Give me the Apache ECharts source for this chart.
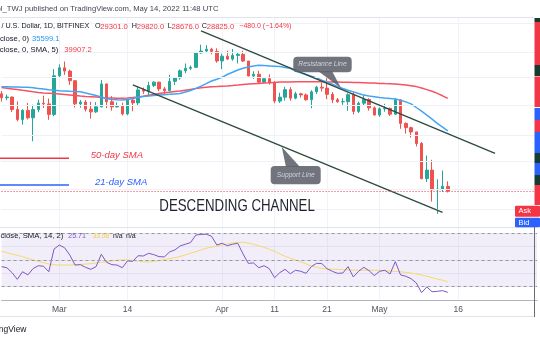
<!DOCTYPE html>
<html><head><meta charset="utf-8">
<script src="https://cdn.jsdelivr.net/npm/echarts@6/dist/echarts.min.js"></script>
<style>html,body{margin:0;padding:0;background:#fff}#c{width:540px;height:340px}</style>
</head><body><div id="c"></div>
<script>
const dates = ['02-18','02-19','02-20','02-21','02-22','02-23','02-24','02-25','02-26','02-27','02-28',
'03-01','03-02','03-03','03-04','03-05','03-06','03-07','03-08','03-09','03-10','03-11','03-12','03-13','03-14','03-15','03-16','03-17','03-18','03-19','03-20','03-21','03-22','03-23','03-24','03-25','03-26','03-27','03-28','03-29','03-30','03-31',
'04-01','04-02','04-03','04-04','04-05','04-06','04-07','04-08','04-09','04-10','04-11','04-12','04-13','04-14','04-15','04-16','04-17','04-18','04-19','04-20','04-21','04-22','04-23','04-24','04-25','04-26','04-27','04-28','04-29','04-30',
'05-01','05-02','05-03','05-04','05-05','05-06','05-07','05-08','05-09','05-10','05-11','05-12','05-13','05-14','05-15','05-16','05-17','05-18','05-19','05-20','05-21','05-22','05-23','05-24','05-25','05-26','05-27','05-28','05-29','05-30','05-31'];

const opens = [40550,40000,40100,38380,37060,38260,37270,38370,39240,39140,37720,
43200,44430,43920,42460,39150,39400,38420,38060,38740,41980,39440,38730,38810,37790,39670,39280,41110,40930,41770,42250,41260,41000,42370,42890,43960,44350,44500,46820,47130,47430,47060,
45510,46280,45810,46410,46580,45500,43170,43440,42250,42760,42160,39530,40080,41150,39940,40550,40400,39720,40830,41500,41370,40480,39710,39440,39450,40430,38120,39240,39740,38600,
37640,38470,38530,37750,39690,36550,36010,35470,34060,30100,31020,28940,29030,29301];
const closes = [40000,40100,38380,37060,38260,37270,38370,39240,39140,37720,43200,
44430,43920,42460,39150,39400,38420,38060,38740,41980,39440,38730,38810,37790,39670,39280,41110,40930,41770,42250,41260,41000,42370,42890,43960,44350,44500,46820,47130,47430,47060,45510,
46280,45810,46410,46580,45500,43170,43440,42250,42760,42160,39530,40080,41150,39940,40550,40400,39720,40830,41500,41370,40480,39710,39440,39450,40430,38120,39240,39740,38600,37640,
38470,38530,37750,39690,36550,36010,35470,34060,30100,31020,28940,29030,29305,28825];
const highs = [40960,40450,40140,39480,38420,39270,39030,39720,40290,39880,44230,
44960,45420,44150,42510,39690,39660,39450,39390,42560,42040,40220,39350,39310,39890,39870,41680,41450,42310,42370,42300,41540,43360,42980,44170,45100,44790,46940,48190,48100,47670,47580,
46680,47200,47440,46880,47190,45510,43900,43970,42800,43420,42420,40700,41560,41510,40840,40690,40600,41070,41730,42180,42960,40800,39960,39940,40620,40800,39460,40380,39930,38790,
38680,39160,38640,39970,39820,36680,36130,35490,34240,32650,32160,30040,30980,29820];
const lows = [39470,39650,38050,36820,36390,37060,34330,38020,38580,37010,37480,
42870,43340,41850,38660,38620,38100,37170,37910,38670,38560,38240,38660,37600,37610,38140,38920,40540,40230,41530,40940,40550,40890,41840,42620,43600,44080,44440,46680,46950,46600,45230,
44220,45650,45540,45120,45360,43140,42740,42120,42140,41880,39220,39260,39590,39570,39780,40030,39570,38540,40530,40870,39800,39240,39300,39000,38200,37730,37900,38900,38220,37600,
37400,38080,37520,37680,35860,35260,34780,33710,30030,29750,27780,26600,28720,28676];

const sma21 = [41578,41563,41534,41519,41505,41490,41431,41329,41228,41127,41055,
40998,40969,40926,40897,40840,40669,40497,40298,40100,39903,39763,39707,39693,39749,39876,40058,40185,40241,40311,40368,40424,40480,40538,40595,40810,41027,41329,41652,42034,42419,42673,
42972,43396,43733,44088,44368,44555,44711,44823,44775,44728,44680,44632,44492,44352,43935,43642,43396,43139,42869,42553,42255,41944,41621,41315,41055,40825,40595,40368,40241,40128,
40015,39945,39889,39834,39652,39416,39139,38648,38162,37616,37092,36562,36077,35599.1];
const sma50 = [41462,41359,41257,41156,41055,40955,40840,40739,40669,40626,40583,
40526,40454,40383,40311,40241,40185,40142,40100,40044,40002,39974,39932,39918,39960,40030,40114,40213,40341,40468,40595,40696,40781,40868,40955,41070,41186,41301,41417,41505,41563,41606,
41652,41695,41754,41827,41915,41974,42019,42063,42107,42152,42211,42255,42270,42285,42300,42315,42315,42315,42315,42300,42285,42270,42255,42240,42226,42196,42181,42152,42122,42107,
42063,42034,42019,41989,41915,41813,41710,41592,41388,41156,40911,40612,40269,39907.2];

const rsi = [45.0,44.2,40.5,35.5,41.2,38.8,43.5,45.7,45.3,41.2,58.2,
61.2,59.2,53.7,46.2,46.5,44.5,43.0,45.0,54.3,48.3,46.5,46.2,44.2,49.3,49.0,53.2,53.0,55.0,54.0,52.5,52.3,56.0,57.5,60.5,61.8,63.0,68.7,69.2,69.3,67.8,61.2,
62.5,60.7,61.8,62.5,54.5,47.5,47.8,44.2,45.7,43.5,36.7,40.5,43.0,39.7,42.3,41.5,40.0,45.0,47.5,47.3,43.5,41.5,40.0,40.2,45.0,37.3,41.5,44.5,42.0,38.3,
41.5,42.3,39.5,48.8,38.8,37.8,36.0,32.8,25.5,29.8,26.2,26.5,27.0,25.71];
const rsiMa = [56.5,55.5,54.5,53.5,52.5,51.2,50.0,49.0,48.0,47.0,46.5,
46.2,46.2,46.2,46.3,46.6,46.9,47.3,47.8,48.3,48.8,49.3,49.8,50.0,50.0,49.7,49.2,48.6,48.5,49.0,49.5,50.3,51.0,51.7,52.6,53.8,55.0,56.2,57.5,58.8,59.6,60.3,
61.2,62.0,62.7,63.3,63.3,62.7,61.7,60.7,59.5,58.0,56.5,54.5,52.8,51.3,50.0,48.6,47.0,45.5,44.5,43.7,43.2,43.0,43.0,42.8,42.6,42.4,42.3,42.3,42.3,42.3,
42.2,42.0,41.7,41.4,41.2,40.7,40.2,39.5,38.8,37.8,36.8,35.7,34.8,33.58];

const tickDates = ['03-01','03-14','04-01','04-11','04-21','05-01','05-16'];
const tickLabels = ['Mar','14','Apr','11','21','May','16'];
const gridPrices = [52000,47000,43000,39000,35000,32000,29000,27000];
const resistanceLine = [['03-28',50600],['05-23',32900]];
const supportLine = [['03-15',41830],['05-13',26750]];
const rsiLevels = [70,50,30];

const FONT = '"Liberation Sans", Arial, sans-serif';
const RED = '#f23645', GREEN = '#26a69a', BLUE = '#2962ff', LBLUE = '#2196f3', DARK = '#131722';
const last = closes.length - 1;
const candleData = opens.map((o, i) => [o, closes[i], lows[i], highs[i]]);
const isTick = (i, v) => tickDates.indexOf(v) >= 0;
const minus = s => s.replace('-', '\u2212');

function txt(x, y, s, color, font, align, extra) {
  return Object.assign({type: 'text', x: x, y: y, z: 100, silent: true,
    style: {x: 0, y: 0, text: s, fill: color, font: font, textAlign: align || 'left', align: align || 'left',
      textVerticalAlign: 'middle', verticalAlign: 'middle'}}, extra || {});
}
function rect(x, y, w, h, color, r) {
  return {type: 'rect', z: 90, silent: true, shape: {x: x, y: y, width: w, height: h, r: r || 0}, style: {fill: color}};
}
function line(x1, y1, x2, y2, color, w) {
  return {type: 'line', z: 90, silent: true, shape: {x1: x1, y1: y1, x2: x2, y2: y2}, style: {stroke: color, lineWidth: w || 1}};
}

const fT = '7.2px ' + FONT;   // legend words, line 1
const fT2 = '7.7px ' + FONT;  // legend words, lines 2-3 and RSI
const fN = '7.6px ' + FONT;   // legend numbers
const fR = '7px ' + FONT;     // RSI values
const chg = closes[last] - closes[last - 1];
const pct = chg / closes[last - 1] * 100;

const graphics = [
  line(0, 17.5, 534, 17.5, '#e0e3eb'),
  line(0, 227.5, 534, 227.5, '#e0e3eb'),
  line(0, 316.5, 534, 316.5, '#e0e3eb'),
  line(534.5, 227, 534.5, 317, '#6a6d78'),
  txt(218.5, 9, 'Coinidol_TWJ published on TradingView.com, May 14, 2022 11:48 UTC', '#434651', '7.7px ' + FONT, 'right'),
  txt(89.3, 26.5, 'Bitcoin / U.S. Dollar, 1D, BITFINEX', DARK, fT, 'right'),
  txt(95, 26.5, 'O', DARK, fT), txt(100.3, 26.5, opens[last].toFixed(1), RED, fN),
  txt(131.7, 26.5, 'H', DARK, fT), txt(136.7, 26.5, highs[last].toFixed(1), RED, fN),
  txt(167.7, 26.5, 'L', DARK, fT), txt(171.5, 26.5, lows[last].toFixed(1), RED, fN),
  txt(201.7, 26.5, 'C', DARK, fT), txt(206.7, 26.5, closes[last].toFixed(1), RED, fN),
  txt(239.3, 26.5, minus(chg.toFixed(1)) + ' (' + minus(pct.toFixed(2)) + '%)', RED, '7px ' + FONT),
  txt(29, 38.5, 'MA (21, close, 0)', DARK, fT2, 'right'),
  txt(32, 38.5, sma21[last].toFixed(1), LBLUE, fN),
  txt(58.3, 50, 'MA (50, close, 0, SMA, 5)', DARK, fT2, 'right'),
  txt(64.3, 50, sma50[last].toFixed(1), RED, fN),
  txt(63.3, 236, 'RSI (14, close, SMA, 14, 2)', DARK, fT2, 'right'),
  txt(68.3, 236, rsi[last].toFixed(2), '#7e57c2', fR),
  txt(92.7, 236, rsiMa[last].toFixed(2), '#f2cf4a', '6.6px ' + FONT),
  txt(113, 236, 'n/a', DARK, fR),
  txt(126, 236, 'n/a', DARK, fR),
  txt(26.5, 329.5, 'TradingView', DARK, '8.5px ' + FONT, 'right'),
  // annotations
  line(0, 158.3, 69, 158.3, RED, 1.5),
  line(0, 185, 69, 185, BLUE, 1.5),
  txt(90.7, 155, '50-day SMA', RED, 'italic 9.5px ' + FONT),
  txt(95, 182, '21-day SMA', BLUE, 'italic 9.5px ' + FONT),
  txt(159.3, 206.3, 'DESCENDING CHANNEL', '#1e222d', '17px ' + FONT, 'left', {scaleX: 0.78}),
  {type: 'polygon', z: 95, silent: true, shape: {points: [[318, 71], [332, 71], [341, 88]]}, style: {fill: 'rgba(93,96,107,0.88)'}},
  rect(293.3, 56.7, 58.4, 15.6, 'rgba(93,96,107,0.88)', 4),
  txt(322.5, 64.5, 'Resistance Line', '#d1d4dc', 'italic 6.8px ' + FONT, 'center'),
  {type: 'polygon', z: 95, silent: true, shape: {points: [[286, 167], [300, 167], [281.7, 146.7]]}, style: {fill: 'rgba(93,96,107,0.88)'}},
  rect(270.7, 166, 50, 18.3, 'rgba(93,96,107,0.88)', 4),
  txt(295.7, 175.2, 'Support Line', '#d1d4dc', 'italic 6.7px ' + FONT, 'center'),
  // right price-scale strip
  rect(534.5, 18, 6, 4, '#173b30'), rect(534.5, 22, 6, 43, RED), rect(534.5, 65, 6, 11, '#173b30'),
  rect(534.5, 76.5, 6, 30.5, RED), rect(534.5, 108, 6, 12, BLUE), rect(534.5, 120, 6, 12, RED),
  rect(534.5, 132, 6, 21, BLUE), rect(534.5, 153, 6, 10, '#173b30'), rect(534.5, 163, 6, 12, BLUE),
  rect(534.5, 175, 6, 10, '#173b30'), rect(534.5, 185, 6, 20, RED),
  rect(515, 205.7, 25, 11, RED, 1), rect(515, 217.7, 25, 9.5, BLUE, 1),
  txt(518.5, 211.3, 'Ask', '#ffffff', '7.5px ' + FONT),
  txt(518.5, 222.5, 'Bid', '#ffffff', '7.5px ' + FONT)
];

const chart = echarts.init(document.getElementById('c'));
chart.setOption({
  animation: false,
  backgroundColor: '#ffffff',
  grid: [
    {left: 1.55, top: 17.3, width: 535.5, height: 210},
    {left: 1.55, top: 227.3, width: 535.5, height: 72.7}
  ],
  xAxis: [
    {type: 'category', gridIndex: 0, data: dates, boundaryGap: false,
      axisLine: {show: false}, axisTick: {show: false}, axisLabel: {show: false},
      splitLine: {show: true, interval: isTick, lineStyle: {color: '#f0f3fa', width: 1}}},
    {type: 'category', gridIndex: 1, data: dates, boundaryGap: false,
      axisLine: {show: true, lineStyle: {color: '#b2b5be', width: 1}}, axisTick: {show: false},
      axisLabel: {show: true, interval: isTick, margin: 5, color: '#50535e', fontSize: 8.5, fontFamily: FONT,
        formatter: v => tickLabels[tickDates.indexOf(v)]},
      splitLine: {show: true, interval: isTick, lineStyle: {color: '#f0f3fa', width: 1}}}
  ],
  yAxis: [
    {type: 'log', gridIndex: 0, min: 25375, max: 53053, show: false, splitLine: {show: false}},
    {type: 'value', gridIndex: 1, min: 20, max: 74.5, interval: 10,
      axisLine: {show: false}, axisTick: {show: false}, axisLabel: {show: false},
      splitLine: {show: true, lineStyle: {color: '#eef0f6'}}}
  ],
  series: [
    {type: 'line', xAxisIndex: 0, yAxisIndex: 0, z: 1, data: [], silent: true,
      markLine: {silent: true, symbol: ['none', 'none'], label: {show: false},
        lineStyle: {color: '#eef1f7', type: 'solid', width: 1},
        data: gridPrices.map(p => ({yAxis: p}))}},
    {type: 'candlestick', xAxisIndex: 0, yAxisIndex: 0, z: 2, data: candleData, barWidth: 3,
      itemStyle: {color: GREEN, color0: '#ef5350', borderColor: GREEN, borderColor0: '#ef5350', borderWidth: 1}},
    {type: 'line', xAxisIndex: 0, yAxisIndex: 0, z: 3, data: sma50, showSymbol: false, symbol: 'none',
      lineStyle: {color: '#f7525f', width: 1.5}},
    {type: 'line', xAxisIndex: 0, yAxisIndex: 0, z: 3, data: sma21, showSymbol: false, symbol: 'none',
      lineStyle: {color: '#42a5f5', width: 1.5}},
    {type: 'line', xAxisIndex: 0, yAxisIndex: 0, z: 4, data: [], silent: true,
      markLine: {silent: true, symbol: ['none', 'none'], label: {show: false},
        data: [
          [{coord: resistanceLine[0]}, {coord: resistanceLine[1]}],
          [{coord: supportLine[0]}, {coord: supportLine[1]}],
          {yAxis: closes[last], lineStyle: {color: RED, type: [1, 2], width: 1}}
        ],
        lineStyle: {color: '#2f4b3f', width: 1.4, type: 'solid'}}},
    {type: 'line', xAxisIndex: 1, yAxisIndex: 1, z: 3, data: rsiMa, showSymbol: false, symbol: 'none',
      lineStyle: {color: '#f5d96b', width: 1}},
    {type: 'line', xAxisIndex: 1, yAxisIndex: 1, z: 4, data: rsi, showSymbol: false, symbol: 'none',
      lineStyle: {color: '#7e57c2', width: 1},
      markArea: {silent: true, itemStyle: {color: 'rgba(126,87,194,0.1)'}, data: [[{yAxis: 30}, {yAxis: 70}]]},
      markLine: {silent: true, symbol: ['none', 'none'], label: {show: false},
        lineStyle: {color: '#9598a1', type: [3, 3], width: 1},
        data: rsiLevels.map(v => ({yAxis: v}))}}
  ],
  graphic: graphics
});
</script>
</body></html>
